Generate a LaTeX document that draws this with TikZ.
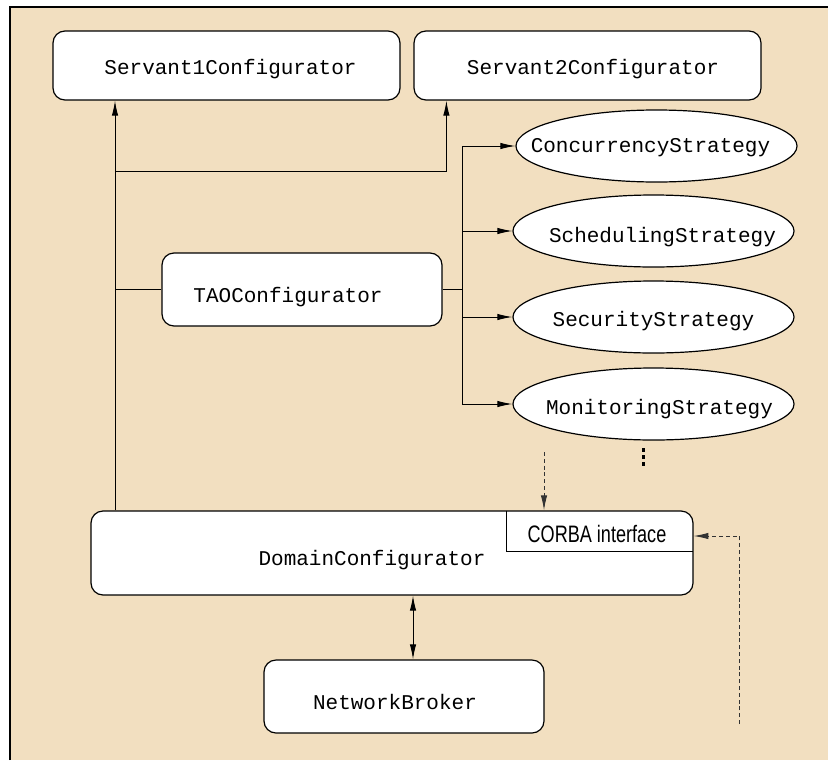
\documentclass[tikz,border=0pt]{standalone}
\usepackage{fontspec}
\setmonofont{Liberation Mono}
\newfontfamily\corbafont{Liberation Sans}
\usepackage{graphicx}
\usetikzlibrary{arrows.meta,shapes.geometric}
\definecolor{panel}{RGB}{242,223,192}
% text moved by #1 sideways and #2 up, inside a box of no size
\newcommand{\offtext}[3]{\makebox[0pt]{\hspace*{#1}\hspace*{#1}\raisebox{#2}[0pt][0pt]{#3}}}

\begin{document}
\begin{tikzpicture}[x=0.5pt,y=-0.5pt,
    >={Latex[length=7.5pt,width=3.2pt]},
    cfgbox/.style={draw,rounded corners=6pt,fill=white,line width=0.6pt,inner sep=0pt,
      font=\ttfamily\fontsize{10.5}{12}\selectfont},
    strat/.style={draw,ellipse,fill=white,line width=0.6pt,inner sep=0pt,
      minimum width=140.5pt,minimum height=36pt,font=\ttfamily\fontsize{10.5}{12}\selectfont},
    link/.style={line width=0.5pt},
    hint/.style={line width=0.5pt,dash pattern=on 2pt off 1.4pt,black!80}]
      \useasboundingbox (0,0) rectangle (828,760);
      %this draws the panel
      \fill[panel] (10,7) rectangle (828,760);
      \draw[line width=0.8pt] (10,760) -- (10,7) -- (828,7);
      %this draws the nodes
      \node [cfgbox,minimum width=173.5pt,minimum height=34.5pt] (servantA) at (226.5,65.5) {\offtext{2pt}{-4.25pt}{Servant1Configurator}};
      \node [cfgbox,minimum width=173.5pt,minimum height=34.5pt] (servantB) at (587.5,65.5) {\offtext{2.75pt}{-4.25pt}{Servant2Configurator}};
      \node [cfgbox,minimum width=140pt,minimum height=36.5pt] (tao) at (302,289.5) {\offtext{-7pt}{-6.25pt}{TAOConfigurator}};
      \node [strat] (conc) at (656.5,146) {\offtext{-3pt}{-3pt}{ConcurrencyStrategy}};
      \node [strat] (sched) at (653.5,231) {\offtext{4.5pt}{-5.5pt}{SchedulingStrategy}};
      \node [strat] (secu) at (653.5,317) {\offtext{0pt}{-4.75pt}{SecurityStrategy}};
      \node [strat] (moni) at (653.5,404) {\offtext{3pt}{-5pt}{MonitoringStrategy}};
      \node [cfgbox,minimum width=301pt,minimum height=42pt] (domain) at (392,553) {\offtext{-10pt}{-6pt}{DomainConfigurator}};
      \node [minimum width=93pt,minimum height=20pt,inner sep=0pt,font=\corbafont\fontsize{11.9}{13}\selectfont] (corba) at (600,531) {\offtext{-1.5pt}{-5.5pt}{\scalebox{0.76}[1]{CORBA interface}}};
      \draw[line width=0.5pt] (corba.north west) -- (corba.south west) -- (corba.south east);
      \node [cfgbox,minimum width=140pt,minimum height=36.5pt] (broker) at (404,696.5) {\offtext{-4.5pt}{-6.25pt}{NetworkBroker}};
      %this draws the dots below the strategies
      \foreach \y in {448,455,462}
        \fill (641.5,\y) rectangle ++(3.6,3.6);
      %this draws the lines
      \coordinate (trunk) at (115,171);
      \coordinate (fork) at (462,283);
      \draw[link,->] (domain.north -| trunk) -- (servantA.south -| trunk);
      \draw[link,->] (trunk) -| ([xshift=16.5pt]servantB.south west);
      \draw[link] (tao.west -| trunk) -- (tao.west);
      \draw[link] (tao.east) -- (tao.east -| fork);
      \draw[link] (fork |- conc.west) -- (fork |- moni.west);
      \foreach \s in {conc,sched,secu,moni}
        \draw[link,->] (fork |- \s.west) -- (\s.west);
      \draw[link,<->] ([xshift=4.5pt]broker.north |- domain.south) -- ([xshift=4.5pt]broker.north);
      %this draws the dashed inputs
      \coordinate (cfgin) at (544,452);
      \coordinate (mgrin) at (739,724);
      \draw[hint,->] (cfgin) -- (cfgin |- domain.north);
      \draw[hint,->] (mgrin) |- ([yshift=-2.5pt]corba.east);
    \end{tikzpicture}
\end{document}
